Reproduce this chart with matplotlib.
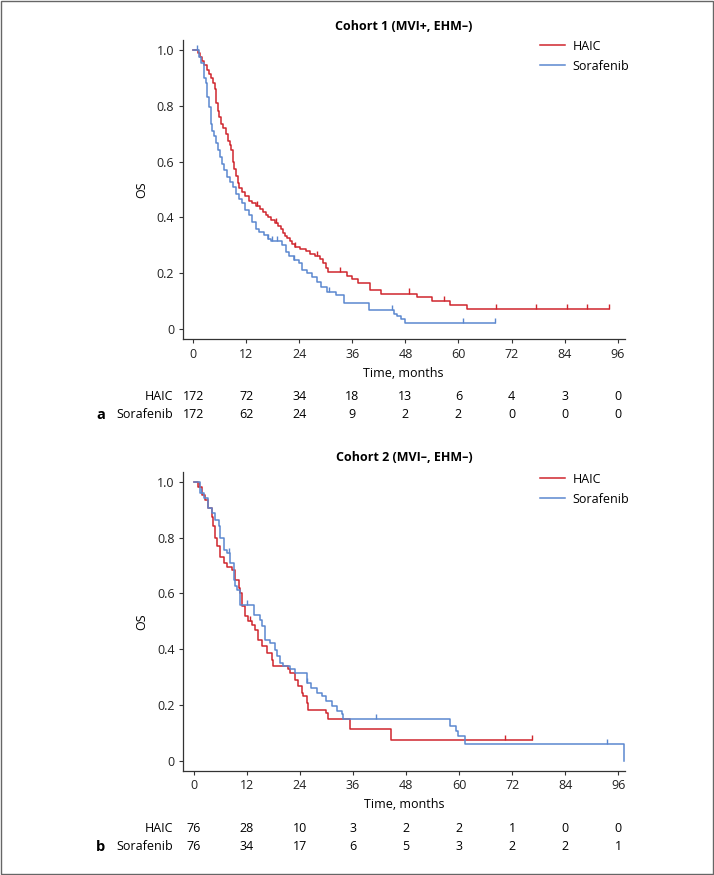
import numpy as np
import matplotlib
matplotlib.use('Agg')
import matplotlib.pyplot as plt
import matplotlib.transforms as mtransforms
from matplotlib.patches import Rectangle

plt.rcParams['font.family'] = ['Open Sans', 'DejaVu Sans']

# Cohort 1 (MVI+, EHM-) - KM step points (months, survival)
c1_haic_t = [0, 1.0, 1.5, 2.0, 2.5, 3.0, 3.5, 4.0, 4.5, 4.9, 5.2, 5.5, 5.9, 6.3, 6.8, 7.3, 7.9, 8.3,
             8.6, 9.0, 9.3, 9.6, 10.0, 10.4, 11.0, 11.8, 12.6, 13.3, 14.2, 15.0, 15.8, 16.5, 17.0,
             17.6, 18.5, 19.2, 19.8, 20.3, 20.8, 21.2, 21.8, 22.4, 23.0, 24.1, 25.5, 26.5, 27.5,
             28.6, 29.3, 30.0, 30.4, 34.8, 36.0, 37.2, 40.0, 42.5, 50.6, 54.0, 58.1, 61.9, 94.1]
c1_haic_s = [1.0, 0.99, 0.975, 0.96, 0.945, 0.93, 0.915, 0.90, 0.88, 0.86, 0.81, 0.78, 0.76, 0.735,
             0.72, 0.70, 0.675, 0.66, 0.64, 0.60, 0.575, 0.55, 0.525, 0.505, 0.49, 0.475, 0.46, 0.45,
             0.44, 0.43, 0.42, 0.41, 0.40, 0.39, 0.38, 0.37, 0.36, 0.345, 0.335, 0.325, 0.315, 0.305,
             0.295, 0.285, 0.278, 0.27, 0.26, 0.25, 0.238, 0.22, 0.205, 0.19, 0.18, 0.165, 0.14,
             0.127, 0.116, 0.101, 0.086, 0.070, 0.070]
c1_haic_cens = [14.3, 18.6, 23.1, 28.0, 33.3, 48.7, 56.8, 68.5, 77.6, 84.6, 89.0, 94.1]

c1_sor_t = [0, 1.3, 1.8, 2.4, 2.8, 3.2, 3.5, 3.9, 4.3, 4.7, 5.2, 5.6, 6.0, 6.4, 6.9, 7.7, 8.4, 9.0,
            9.6, 10.3, 11.1, 11.8, 12.6, 13.3, 14.1, 14.8, 16.0, 16.9, 17.5, 20.1, 20.9, 21.6, 22.7,
            23.9, 24.6, 25.8, 26.9, 28.0, 28.8, 30.3, 32.2, 34.0, 39.8, 45.4, 46.0, 47.0, 47.8, 68.3]
c1_sor_s = [1.0, 0.975, 0.955, 0.90, 0.88, 0.83, 0.795, 0.735, 0.71, 0.69, 0.665, 0.64, 0.615, 0.59,
            0.57, 0.545, 0.527, 0.51, 0.485, 0.467, 0.45, 0.425, 0.407, 0.384, 0.36, 0.348, 0.336,
            0.324, 0.316, 0.30, 0.277, 0.26, 0.247, 0.235, 0.213, 0.20, 0.187, 0.17, 0.15, 0.133,
            0.122, 0.092, 0.068, 0.055, 0.045, 0.035, 0.02, 0.02]
c1_sor_cens = [0.8, 17.0, 17.8, 19.0, 22.7, 30.6, 45.0, 61.0, 68.3]

# Cohort 2 (MVI-, EHM-)
c2_haic_t = [0, 1.0, 1.8, 2.6, 3.3, 4.1, 4.4, 4.8, 5.2, 5.9, 6.7, 7.5, 8.6, 9.3, 10.1, 10.5, 10.8,
             11.6, 12.3, 13.1, 13.9, 14.6, 15.4, 16.5, 17.6, 18.0, 21.4, 21.8, 22.9, 23.6, 24.4,
             24.8, 25.5, 25.9, 30.0, 30.4, 35.3, 44.7, 76.4]
c2_haic_s = [1.0, 0.98, 0.953, 0.935, 0.905, 0.875, 0.84, 0.80, 0.77, 0.73, 0.71, 0.696, 0.684,
             0.649, 0.62, 0.60, 0.553, 0.517, 0.50, 0.488, 0.47, 0.434, 0.41, 0.386, 0.362, 0.339,
             0.327, 0.315, 0.29, 0.267, 0.243, 0.231, 0.207, 0.181, 0.172, 0.15, 0.112, 0.073, 0.073]
c2_haic_cens = [1.2, 12.7, 70.4, 76.4]

c2_sor_t = [0, 1.4, 2.2, 3.3, 4.1, 4.8, 5.6, 5.9, 6.7, 7.5, 8.1, 9.0, 9.3, 9.7, 10.5, 13.5, 15.0,
            15.4, 16.1, 17.2, 18.4, 18.7, 19.5, 20.2, 21.8, 22.9, 25.5, 26.6, 27.8, 28.9, 30.0,
            31.2, 32.3, 33.4, 33.8, 57.9, 59.4, 59.8, 61.3, 97.3]
c2_sor_s = [1.0, 0.958, 0.94, 0.905, 0.887, 0.863, 0.84, 0.80, 0.756, 0.744, 0.708, 0.649, 0.625,
            0.613, 0.559, 0.523, 0.505, 0.482, 0.434, 0.422, 0.398, 0.374, 0.35, 0.339, 0.327,
            0.315, 0.279, 0.261, 0.243, 0.231, 0.213, 0.196, 0.178, 0.166, 0.148, 0.124, 0.106,
            0.088, 0.058, 0.0]
c2_sor_cens = [1.6, 8.0, 12.0, 25.5, 41.3, 93.4]

# numbers at risk
risk_times = [0, 12, 24, 36, 48, 60, 72, 84, 96]
c1_haic_risk = [172, 72, 34, 18, 13, 6, 4, 3, 0]
c1_sor_risk = [172, 62, 24, 9, 2, 2, 0, 0, 0]
c2_haic_risk = [76, 28, 10, 3, 2, 2, 1, 0, 0]
c2_sor_risk = [76, 34, 17, 6, 5, 3, 2, 2, 1]

red = '#d0262d'
blue = '#5b87cf'
fs = 9
W, H = 714, 875

fig = plt.figure(figsize=(W / 100, H / 100), dpi=100)
fig.patches.append(Rectangle((0.001, 0.001), 0.998, 0.998, transform=fig.transFigure,
                             fill=False, ec='#666666', lw=1.0))


def km_value(t, s, x):
    # survival value at time x of step curve
    idx = np.searchsorted(t, x, side='right') - 1
    return s[max(idx, 0)]


def panel(rect, title, curves, risks, risk_y, letter, leg_top):
    ax = fig.add_axes(rect)
    for (t, s, cens, col, lab) in curves:
        ax.step(t, s, where='post', color=col, lw=1.1, label=lab)
        cy = [km_value(t, s, c) for c in cens]
        ax.vlines(cens, cy, np.array(cy) + 0.018, color=col, lw=1.0)
    ax.set_xlim(-2.4, 97.6)
    ax.set_ylim(-0.036, 1.036)
    ax.set_xticks(risk_times)
    ax.set_yticks([0, 0.2, 0.4, 0.6, 0.8, 1.0])
    ax.set_yticklabels(['0', '0.2', '0.4', '0.6', '0.8', '1.0'])
    for sp in ['top', 'right']:
        ax.spines[sp].set_visible(False)
    for sp in ['left', 'bottom']:
        ax.spines[sp].set_color('#333333')
        ax.spines[sp].set_linewidth(0.9)
    ax.tick_params(length=3.2, width=0.8, color='#333333', labelsize=fs, pad=3,
                   labelcolor='#222222')
    ax.set_title(title, fontsize=fs, fontweight='bold', pad=7.5)
    ax.set_xlabel('Time, months', fontsize=fs, va='center')
    ax.xaxis.set_label_coords(0.5, -0.114)
    ax.set_ylabel('OS', fontsize=fs, va='center', ha='center')
    ax.yaxis.set_label_coords(-0.093, 0.5)
    ax.legend(loc='upper right', bbox_to_anchor=(629 / W, 1 - leg_top / H),
              bbox_transform=fig.transFigure, borderaxespad=0, borderpad=0,
              frameon=False, fontsize=fs, handlelength=2.0, handletextpad=0.56,
              labelspacing=0.57)
    tr = mtransforms.blended_transform_factory(ax.transData, fig.transFigure)
    for (lab, vals), yy in zip(risks, risk_y):
        fig.text(173 / W, yy, lab, ha='right', va='center', fontsize=fs)
        for x, v in zip(risk_times, vals):
            ax.text(x, yy, str(v), transform=tr, ha='center', va='center', fontsize=fs,
                    clip_on=False)
    fig.text(96 / W, risk_y[1], letter, ha='left', va='center', fontsize=10.5,
             fontweight='bold')
    return ax


panel([0.2559, 0.6126, 0.619, 0.3417], 'Cohort 1 (MVI+, EHM\u2013)',
      [(c1_haic_t, c1_haic_s, c1_haic_cens, red, 'HAIC'),
       (c1_sor_t, c1_sor_s, c1_sor_cens, blue, 'Sorafenib')],
      [('HAIC', c1_haic_risk), ('Sorafenib', c1_sor_risk)],
      [1 - 396 / H, 1 - 415 / H], 'a', 39.5)

panel([0.2567, 0.1192, 0.619, 0.3417], 'Cohort 2 (MVI\u2013, EHM\u2013)',
      [(c2_haic_t, c2_haic_s, c2_haic_cens, red, 'HAIC'),
       (c2_sor_t, c2_sor_s, c2_sor_cens, blue, 'Sorafenib')],
      [('HAIC', c2_haic_risk), ('Sorafenib', c2_sor_risk)],
      [1 - 828 / H, 1 - 847 / H], 'b', 472.5)

fig.savefig('out.png', dpi=100)
